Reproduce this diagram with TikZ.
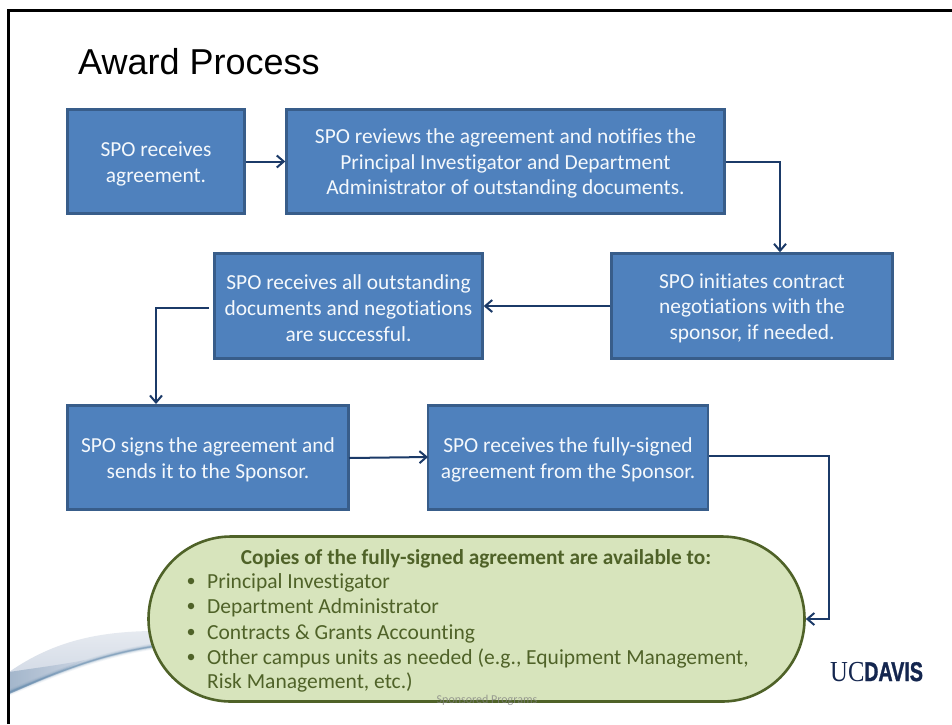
\documentclass[tikz,border=0pt]{standalone}
\usepackage{graphicx}
\usepackage{fontspec}
\setmainfont{Carlito}[Ligatures=CommonOff]
\newfontfamily\titlefont{Liberation Sans}
\newfontfamily\logoserif{Liberation Serif}
\newfontfamily\logobold{Liberation Sans}[BoldFeatures={FakeBold=1.4}]
\usetikzlibrary{arrows.meta,shapes.misc}
\definecolor{boxfill}{HTML}{4F81BD}
\definecolor{boxline}{HTML}{385D8A}
\definecolor{arrowc}{HTML}{1B3A68}
\definecolor{ovalfill}{HTML}{D7E4BC}
\definecolor{ovalline}{HTML}{4F6228}
\definecolor{logoc}{HTML}{14264F}
\definecolor{swlight}{HTML}{CBD4E2}
\definecolor{swtop}{HTML}{E6EAF0}
\definecolor{swdark}{HTML}{A3B6CB}
\definecolor{swedge}{HTML}{4F7CA3}
\definecolor{boxtext}{HTML}{F4F8FC}
\newcommand{\lowr}{\rule{0pt}{19.2pt}}
\tikzset{
  x=1pt,y=-1pt,
  flow/.style={draw=boxline,fill=boxfill,line width=2.4pt,text=boxtext,align=center,inner sep=0pt,
    font=\fontsize{21.4}{25.6}\selectfont},
  conn/.style={draw=arrowc,line width=2pt,-{Straight Barb[length=7pt,width=12pt,line width=2pt]}},
  listline/.style={anchor=base west,inner sep=0pt,text=ovalline,font=\fontsize{21.5}{24}\selectfont},
  bul/.style={circle,fill=ovalline,inner sep=0pt,minimum size=6.5pt},
}
\begin{document}
\begin{tikzpicture}
\useasboundingbox (0,0) rectangle (952,724);
\fill[white] (0,0) rectangle (952,724);
% swoosh
\shade[top color=swtop,bottom color=swlight]
  (9,672) .. controls (55,640) and (100,632) .. (150,631) -- (153,647) .. controls (100,655) and (60,672) .. (9,694) -- cycle;
\shade[left color=swdark,right color=swlight]
  (9,672) .. controls (35,668) and (60,665) .. (85,660) .. controls (60,671) and (35,683) .. (9,694) -- cycle;
\foreach \w/\o in {6/.08,4/.12,2.5/.2,1.4/.35}
  \draw[swedge,line width=\w pt,opacity=\o] (9,692.5) .. controls (60,671) and (100,655) .. (153,646.5);
% frame
\draw[black,line width=3pt] (8.5,724) -- (8.5,10) -- (952,10);
% title
\node[anchor=base west,inner sep=0pt,font=\titlefont\fontsize{36}{40}\selectfont] (title) at (78,74.5) {Award Process};
% boxes
\node[flow,minimum width=177pt,minimum height=104pt] (b1) at (156,161.5) {\lowr SPO receives\\agreement.};
\node[flow,minimum width=438pt,minimum height=104pt] (b2) at (505.5,161.5) {\lowr SPO reviews the agreement and notifies the\\Principal Investigator and Department\\Administrator of outstanding documents.};
\node[flow,minimum width=281pt,minimum height=105pt] (b3) at (752,306) {\lowr SPO initiates contract\\negotiations with the\\sponsor, if needed.};
\node[flow,minimum width=268pt,minimum height=105pt] (b4) at (348.5,306) {\lowr SPO receives all outstanding\\documents and negotiations\\are successful.};
\node[flow,minimum width=281pt,minimum height=104pt] (b5) at (208,457.5) {\lowr SPO signs the agreement and\\sends it to the Sponsor.};
\node[flow,minimum width=280pt,minimum height=104pt] (b6) at (568,457.5) {\lowr SPO receives the fully-signed\\agreement from the Sponsor.};
% oval
\node[rounded rectangle,draw=ovalline,fill=ovalfill,line width=2.6pt,minimum width=656pt,minimum height=165pt,inner sep=0pt] (oval) at (476.5,619) {};
\node[anchor=base,inner sep=0pt,text=ovalline,font=\bfseries\fontsize{21.3}{24}\selectfont] (head) at (476,564) {Copies of the fully-signed agreement are available to:};
\node[listline] (l1) at (207,588) {Principal Investigator};
\node[listline] (l2) at (207,613) {Department Administrator};
\node[listline] (l3) at (207,639) {Contracts \& Grants Accounting};
\node[listline] (l4) at (207,664) {Other campus units as needed (e.g., Equipment Management,};
\node[listline] (l5) at (207,688.5) {Risk Management, etc.)};
\node[bul] (d1) at (191,581) {};
\node[bul] (d2) at (191,606) {};
\node[bul] (d3) at (191,632) {};
\node[bul] (d4) at (191,657) {};
% footer
\node[anchor=base,inner sep=0pt,text=gray,opacity=.75,font=\fontsize{12}{13}\selectfont] (foot) at (487,703) {Sponsored Programs};
% logo
\node[anchor=base west,inner sep=0pt,text=logoc,font=\logoserif\fontsize{29}{30}\selectfont] (uc) at (830,681) {\scalebox{.85}[1]{UC}};
\node[anchor=base west,inner sep=0pt,text=logoc,font=\logobold\bfseries\fontsize{27}{30}\selectfont] (davis) at (864,681) {\scalebox{.73}[1]{DAVIS}};
% connectors
\coordinate (c1) at (780,161.5);
\coordinate (c2a) at (209,308);
\coordinate (c2b) at (156,308);
\coordinate (c2c) at (156,404);
\coordinate (c3) at (829,456);
\coordinate (c4) at (349,458);
\coordinate (c5) at (428,457);
\coordinate (c6) at (709,456);
\draw[conn] (b1.east) -- (b2.west);
\draw[conn] (b2.east) -- (c1) -- (c1 |- b3.north);
\draw[conn] (b3.west) -- (b4.east);
\draw[conn] (c2a) -- (c2b) -- (c2c);
\draw[conn] (c4) -- (c5);
\draw[conn] (c6) -- (c3) -- (c3 |- oval.east) -- (oval.east);
\end{tikzpicture}
\end{document}
